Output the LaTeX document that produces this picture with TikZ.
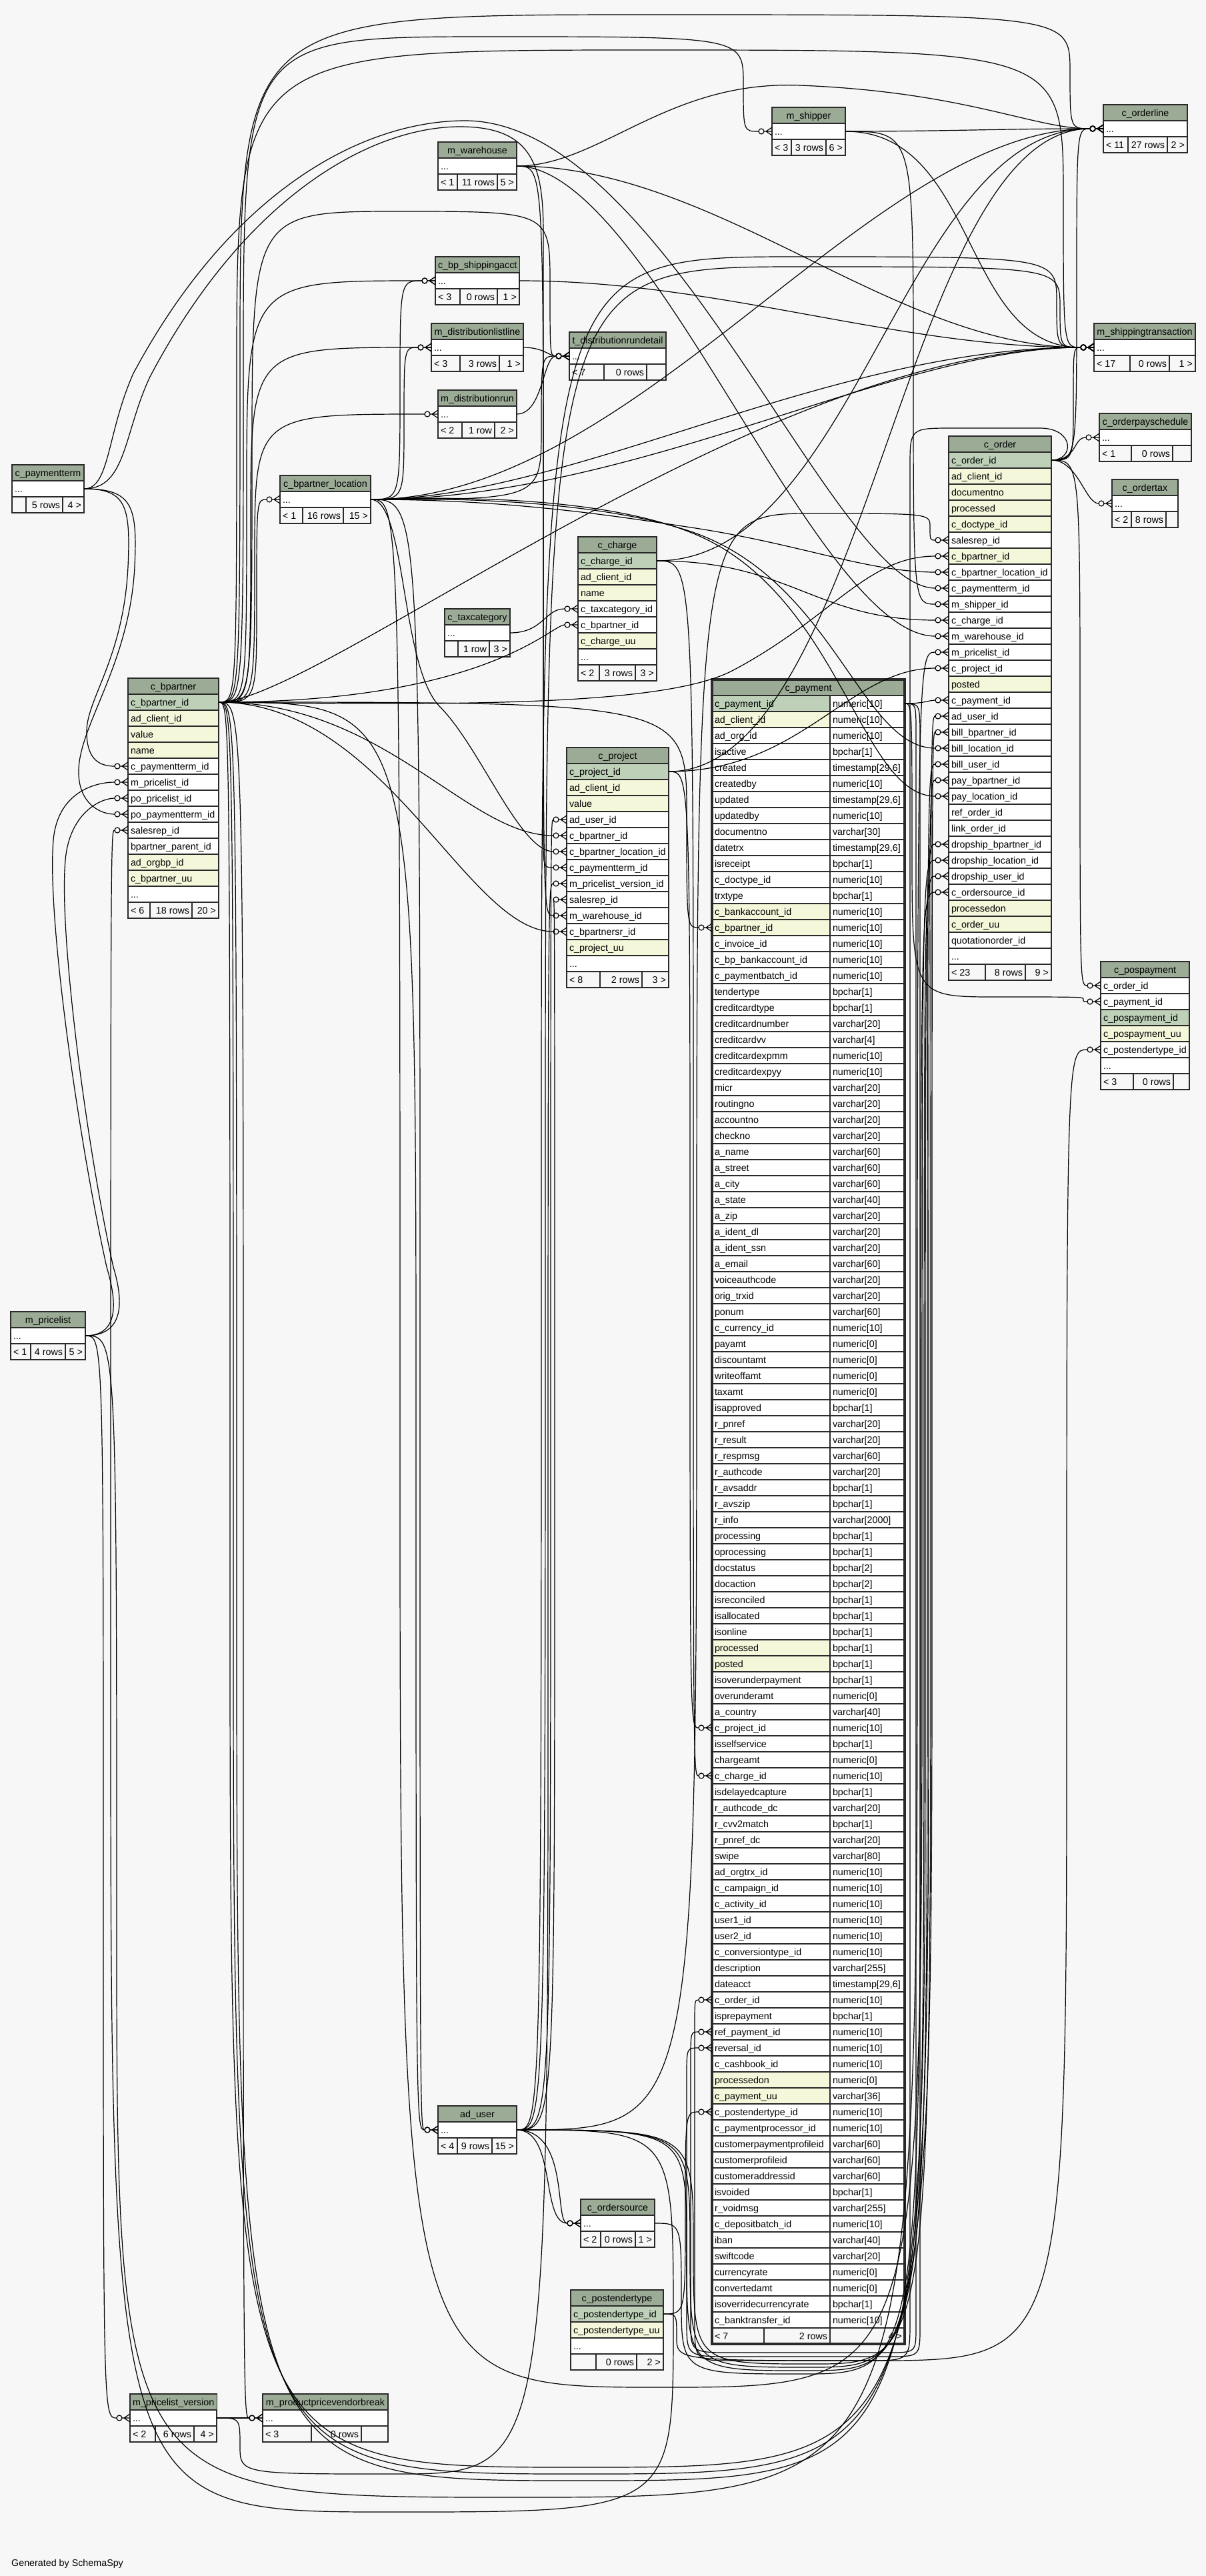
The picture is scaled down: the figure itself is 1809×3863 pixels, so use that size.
\documentclass[tikz,border=0pt]{standalone}
\usepackage{fontspec}
\setmainfont{Liberation Sans}
\usetikzlibrary{arrows.meta,calc}
\definecolor{bgc}{HTML}{F7F7F7}
\definecolor{ttlc}{HTML}{9BAB96}
\definecolor{cg}{HTML}{BED1B8}
\definecolor{cy}{HTML}{F4F7DA}
\definecolor{cw}{HTML}{FFFFFF}
\definecolor{ftc}{HTML}{F7F7F7}
\definecolor{brd}{HTML}{2A2A2A}

\pgfdeclarearrow{
  name = crowodot,
  setup code = {
    \pgfarrowssettipend{0pt}
    \pgfarrowssetlineend{-20pt}
    \pgfarrowssetbackend{-20pt}
    \pgfarrowshullpoint{0pt}{6pt}
    \pgfarrowshullpoint{0pt}{-6pt}
    \pgfarrowshullpoint{-20pt}{4pt}
    \pgfarrowshullpoint{-20pt}{-4pt}
  },
  drawing code = {
    \pgfsetdash{}{0pt}
    \pgfpathmoveto{\pgfqpoint{0pt}{6pt}}
    \pgfpathlineto{\pgfqpoint{-9pt}{0pt}}
    \pgfpathlineto{\pgfqpoint{0pt}{-6pt}}
    \pgfpathmoveto{\pgfqpoint{-12pt}{0pt}}
    \pgfpathlineto{\pgfqpoint{0pt}{0pt}}
    \pgfusepathqstroke
    \pgfpathcircle{\pgfqpoint{-16pt}{0pt}}{4pt}
    \pgfusepathqstroke
  }
}

\newcommand\tf{\fontsize{14.3pt}{17pt}\selectfont}
\newcommand\ddd{...}

\tikzset{
  ttl/.style={draw=brd, fill=ttlc, line width=1.5pt, minimum height=24pt, inner xsep=4pt, inner ysep=0pt, outer sep=0pt, text height=12pt, text depth=2pt, font=\tf},
  cell/.style={draw=brd, line width=1.5pt, minimum height=24pt, inner xsep=4pt, inner ysep=0pt, outer sep=0pt, text height=12pt, text depth=2pt, font=\tf},
  fcell/.style={cell, fill=ftc},
  rel/.style={draw=black, line width=1.2pt, -{crowodot}},
}

\newcommand{\tbl}[6]{%
  \pgfmathsetmacro{\tw}{#3-#2}%
  \pgfmathsetmacro{\iw}{#3-#2-8}%
  \node[ttl, minimum width=\tw pt, anchor=north west] (#1) at (#2,#4) {#5};
  \foreach \fc/\nm [count=\i] in {#6} {
    \node[cell, fill=c\fc, minimum width=\tw pt, anchor=north west] (#1-r\i) at (#2,{#4+24*\i}) {\makebox[\iw pt][l]{\nm}};
  }%
}
\newcommand{\foot}[9]{%
  \node[fcell, minimum width={(#3-#2)*1pt}, anchor=north west] (#1-f1) at (#2,#6) {\makebox[\dimexpr#3pt-#2pt-8pt\relax][l]{#7}};
  \node[fcell, minimum width={(#4-#3)*1pt}, anchor=north west] (#1-f2) at (#3,#6) {\makebox[\dimexpr#4pt-#3pt-8pt\relax][r]{#8}};
  \node[fcell, minimum width={(#5-#4)*1pt}, anchor=north west] (#1-f3) at (#4,#6) {\makebox[\dimexpr#5pt-#4pt-8pt\relax][r]{#9}};
}
\newcommand{\eS}[4]{\draw[rel] (#1.east) .. controls +(#3,0) and +(-#4,0) .. (#2.west);}
\newcommand{\eV}[3]{\draw[rel] let \p1=(#1.east), \p2=(#2.west) in (\p1) .. controls (#3pt,\y1) .. (#3pt,{0.5*(\y1+\y2)}) .. controls (#3pt,\y2) .. (\p2);}
\newcommand{\eR}[5]{\draw[rel] let \p1=(#1.east), \p2=(#2.west) in (\p1) .. controls (#3pt,\y1) .. (#3pt,{0.5*(\y1-#4pt)}) .. controls (#3pt,-#4pt) .. ({0.5*(#3pt+#5pt)},-#4pt) .. controls (#5pt,-#4pt) .. (#5pt,{0.5*(\y2-#4pt)}) .. controls (#5pt,\y2) .. (\p2);}

\begin{document}
\catcode`\_=12
\begin{tikzpicture}[x=1pt,y=-1pt]
\path[use as bounding box, fill=bgc] (0,0) rectangle (1809,3863);

% ---------- tables ----------
\tbl{ol}{1655}{1781}{157}{c_orderline}{w/\ddd}
\foot{ol}{1655}{1692}{1751}{1781}{205}{< 11}{27 rows}{2 >}

\tbl{msh}{1158}{1268}{161}{m_shipper}{w/\ddd}
\foot{msh}{1158}{1187}{1239}{1268}{209}{< 3}{3 rows}{6 >}

\tbl{mst}{1641}{1793}{485}{m_shippingtransaction}{w/\ddd}
\foot{mst}{1641}{1695}{1754}{1793}{533}{< 17}{0 rows}{1 >}

\tbl{ops}{1649}{1787}{620}{c_orderpayschedule}{w/\ddd}
\foot{ops}{1649}{1697}{1759}{1787}{668}{< 1}{0 rows}{}

\tbl{otx}{1668}{1767}{719}{c_ordertax}{w/\ddd}
\foot{otx}{1668}{1697}{1749}{1767}{767}{< 2}{8 rows}{}

\tbl{ord}{1423}{1577}{654}{c_order}{g/c_order_id, y/ad_client_id, y/documentno, y/processed, y/c_doctype_id, w/salesrep_id, y/c_bpartner_id, w/c_bpartner_location_id, w/c_paymentterm_id, w/m_shipper_id, w/c_charge_id, w/m_warehouse_id, w/m_pricelist_id, w/c_project_id, y/posted, w/c_payment_id, w/ad_user_id, w/bill_bpartner_id, w/bill_location_id, w/bill_user_id, w/pay_bpartner_id, w/pay_location_id, w/ref_order_id, w/link_order_id, w/dropship_bpartner_id, w/dropship_location_id, w/dropship_user_id, w/c_ordersource_id, y/processedon, y/c_order_uu, w/quotationorder_id, w/\ddd}
\foot{ord}{1423}{1478}{1538}{1577}{1446}{< 23}{8 rows}{9 >}

\tbl{pos}{1651}{1784}{1442}{c_pospayment}{w/c_order_id, w/c_payment_id, g/c_pospayment_id, y/c_pospayment_uu, w/c_postendertype_id, w/\ddd}
\foot{pos}{1651}{1700}{1760}{1784}{1610}{< 3}{0 rows}{}

\tbl{mwh}{657}{775}{213}{m_warehouse}{w/\ddd}
\foot{mwh}{657}{686}{746}{775}{261}{< 1}{11 rows}{5 >}

\tbl{bsa}{653}{779}{385}{c_bp_shippingacct}{w/\ddd}
\foot{bsa}{653}{690}{746}{779}{433}{< 3}{0 rows}{1 >}

\tbl{dll}{647}{785}{485}{m_distributionlistline}{w/\ddd}
\foot{dll}{647}{690}{749}{785}{533}{< 3}{3 rows}{1 >}

\tbl{drn}{657}{775}{585}{m_distributionrun}{w/\ddd}
\foot{drn}{657}{693}{742}{775}{633}{< 2}{1 row}{2 >}

\tbl{trd}{854}{999}{498}{t_distributionrundetail}{w/\ddd}
\foot{trd}{854}{906}{970}{999}{546}{< 7}{0 rows}{}

\tbl{pt}{18}{126}{697}{c_paymentterm}{w/\ddd}
\foot{pt}{18}{39}{94}{126}{745}{}{5 rows}{4 >}

\tbl{bpl}{420}{556}{713}{c_bpartner_location}{w/\ddd}
\foot{bpl}{420}{454}{515}{556}{761}{< 1}{16 rows}{15 >}

\tbl{bp}{192}{328}{1017}{c_bpartner}{g/c_bpartner_id, y/ad_client_id, y/value, y/name, w/c_paymentterm_id, w/m_pricelist_id, w/po_pricelist_id, w/po_paymentterm_id, w/salesrep_id, w/bpartner_parent_id, y/ad_orgbp_id, y/c_bpartner_uu, w/\ddd}
\foot{bp}{192}{225}{288}{328}{1353}{< 6}{18 rows}{20 >}

\tbl{chg}{867}{985}{805}{c_charge}{g/c_charge_id, y/ad_client_id, y/name, w/c_taxcategory_id, w/c_bpartner_id, y/c_charge_uu, w/\ddd}
\foot{chg}{867}{899}{953}{985}{997}{< 2}{3 rows}{3 >}

\tbl{tax}{667}{765}{913}{c_taxcategory}{w/\ddd}
\foot{tax}{667}{687}{734}{765}{961}{}{1 row}{3 >}

\tbl{prj}{850}{1003}{1121}{c_project}{g/c_project_id, y/ad_client_id, y/value, w/ad_user_id, w/c_bpartner_id, w/c_bpartner_location_id, w/c_paymentterm_id, w/m_pricelist_version_id, w/salesrep_id, w/m_warehouse_id, w/c_bpartnersr_id, y/c_project_uu, w/\ddd}
\foot{prj}{850}{900}{963}{1003}{1457}{< 8}{2 rows}{3 >}

\tbl{mpl}{16}{128}{1967}{m_pricelist}{w/\ddd}
\foot{mpl}{16}{46}{98}{128}{2015}{< 1}{4 rows}{5 >}

\tbl{usr}{657}{775}{3158}{ad_user}{w/\ddd}
\foot{usr}{657}{686}{738}{775}{3206}{< 4}{9 rows}{15 >}

\tbl{osr}{871}{982}{3298}{c_ordersource}{w/\ddd}
\foot{osr}{871}{901}{953}{982}{3346}{< 2}{0 rows}{1 >}

\tbl{ptt}{856}{995}{3434}{c_postendertype}{g/c_postendertype_id, y/c_postendertype_uu, w/\ddd}
\foot{ptt}{856}{894}{955}{995}{3530}{}{0 rows}{2 >}

\tbl{plv}{195}{325}{3590}{m_pricelist_version}{w/\ddd}
\foot{plv}{195}{233}{291}{325}{3638}{< 2}{6 rows}{4 >}

\tbl{ppv}{394}{582}{3590}{m_productpricevendorbreak}{w/\ddd}
\foot{ppv}{394}{467}{542}{582}{3638}{< 3}{0 rows}{}

% c_payment (focus table)
\node[ttl, minimum width=289pt, anchor=north west] (pay) at (1068,1019) {c_payment};
\foreach \fc/\nm/\ty [count=\i] in {g/c_payment_id/numeric[10], y/ad_client_id/numeric[10], w/ad_org_id/numeric[10], w/isactive/bpchar[1], w/created/{timestamp[29,6]}, w/createdby/numeric[10], w/updated/{timestamp[29,6]}, w/updatedby/numeric[10], w/documentno/varchar[30], w/datetrx/{timestamp[29,6]}, w/isreceipt/bpchar[1], w/c_doctype_id/numeric[10], w/trxtype/bpchar[1], y/c_bankaccount_id/numeric[10], y/c_bpartner_id/numeric[10], w/c_invoice_id/numeric[10], w/c_bp_bankaccount_id/numeric[10], w/c_paymentbatch_id/numeric[10], w/tendertype/bpchar[1], w/creditcardtype/bpchar[1], w/creditcardnumber/varchar[20], w/creditcardvv/varchar[4], w/creditcardexpmm/numeric[10], w/creditcardexpyy/numeric[10], w/micr/varchar[20], w/routingno/varchar[20], w/accountno/varchar[20], w/checkno/varchar[20], w/a_name/varchar[60], w/a_street/varchar[60], w/a_city/varchar[60], w/a_state/varchar[40], w/a_zip/varchar[20], w/a_ident_dl/varchar[20], w/a_ident_ssn/varchar[20], w/a_email/varchar[60], w/voiceauthcode/varchar[20], w/orig_trxid/varchar[20], w/ponum/varchar[60], w/c_currency_id/numeric[10], w/payamt/numeric[0], w/discountamt/numeric[0], w/writeoffamt/numeric[0], w/taxamt/numeric[0], w/isapproved/bpchar[1], w/r_pnref/varchar[20], w/r_result/varchar[20], w/r_respmsg/varchar[60], w/r_authcode/varchar[20], w/r_avsaddr/bpchar[1], w/r_avszip/bpchar[1], w/r_info/varchar[2000], w/processing/bpchar[1], w/oprocessing/bpchar[1], w/docstatus/bpchar[2], w/docaction/bpchar[2], w/isreconciled/bpchar[1], w/isallocated/bpchar[1], w/isonline/bpchar[1], y/processed/bpchar[1], y/posted/bpchar[1], w/isoverunderpayment/bpchar[1], w/overunderamt/numeric[0], w/a_country/varchar[40], w/c_project_id/numeric[10], w/isselfservice/bpchar[1], w/chargeamt/numeric[0], w/c_charge_id/numeric[10], w/isdelayedcapture/bpchar[1], w/r_authcode_dc/varchar[20], w/r_cvv2match/bpchar[1], w/r_pnref_dc/varchar[20], w/swipe/varchar[80], w/ad_orgtrx_id/numeric[10], w/c_campaign_id/numeric[10], w/c_activity_id/numeric[10], w/user1_id/numeric[10], w/user2_id/numeric[10], w/c_conversiontype_id/numeric[10], w/description/varchar[255], w/dateacct/{timestamp[29,6]}, w/c_order_id/numeric[10], w/isprepayment/bpchar[1], w/ref_payment_id/numeric[10], w/reversal_id/numeric[10], w/c_cashbook_id/numeric[10], y/processedon/numeric[0], y/c_payment_uu/varchar[36], w/c_postendertype_id/numeric[10], w/c_paymentprocessor_id/numeric[10], w/customerpaymentprofileid/varchar[60], w/customerprofileid/varchar[60], w/customeraddressid/varchar[60], w/isvoided/bpchar[1], w/r_voidmsg/varchar[255], w/c_depositbatch_id/numeric[10], w/iban/varchar[40], w/swiftcode/varchar[20], w/currencyrate/numeric[0], w/convertedamt/numeric[0], w/isoverridecurrencyrate/bpchar[1], w/c_banktransfer_id/numeric[10]} {
  \node[cell, fill=c\fc, minimum width=177pt, anchor=north west] (pay-r\i) at (1068,{1019+24*\i}) {\makebox[169pt][l]{\nm}};
  \node[cell, fill=cw, minimum width=112pt, anchor=north west] (pay-t\i) at (1245,{1019+24*\i}) {\makebox[104pt][l]{\ty}};
}
\foot{pay}{1068}{1146}{1245}{1357}{3491}{< 7}{2 rows}{4 >}
\node[draw=brd, line width=3.5pt, minimum width=289pt, minimum height=2496pt, inner sep=0pt, outer sep=0pt, anchor=north west] (payframe) at (1068,1019) {};

% ---------- connectors ----------
% c_paymentterm
\draw[rel] (pt-r1.east) .. controls (190,733) and (196,760) .. (192,850) .. controls (185,990) and (128,1050) .. (130,1100) .. controls (131,1140) and (150,1149) .. (bp-r5.west);
\draw[rel] (pt-r1.east) .. controls (200,733) and (206,760) .. (202,850) .. controls (194,1000) and (116,1090) .. (118,1160) .. controls (119,1205) and (150,1221) .. (bp-r8.west);
\draw[rel] (pt-r1.east) .. controls (165,733) and (160,650) .. (200,560) .. controls (350,280) and (550,180) .. (700,181) .. controls (1000,185) and (1250,882) .. (ord-r9.west);
\draw[rel] (pt-r1.east) .. controls (190,733) and (185,650) .. (225,565) .. controls (370,290) and (560,190) .. (690,190) .. controls (800,190) and (815,250) .. (815,350) -- (815,1250) .. controls (815,1301) .. (prj-r7.west);

% c_bpartner
\eV{bp-r1}{bpl-r1}{385}
\eV{bp-r1}{bsa-r1}{370}
\eV{bp-r1}{dll-r1}{376}
\eV{bp-r1}{drn-r1}{382}
\eR{bp-r1}{trd-r1}{378}{317}{825}
\eR{bp-r1}{msh-r1}{365}{55}{1115}
\eR{bp-r1}{ol-r1}{360}{22}{1605}
\eR{bp-r1}{mst-r1}{355}{75}{1595}
\eS{bp-r1}{mst-r1}{150}{500}
\eS{bp-r1}{chg-r5}{400}{40}
\eS{bp-r1}{prj-r5}{250}{150}
\eS{bp-r1}{prj-r11}{250}{150}
\draw[rel] (bp-r1.east) .. controls (700,1058) and (1000,1058) .. (1100,1005) .. controls (1250,925) and (1300,834) .. (ord-r7.west);
\eR{bp-r1}{ord-r18}{345}{3700}{1398}
\eR{bp-r1}{ord-r21}{350}{3710}{1393}
\eR{bp-r1}{ord-r25}{355}{3720}{1388}
\eV{bp-r1}{pay-r15}{1030}
\eV{bp-r1}{usr-r1}{624}
\eV{bp-r1}{ppv-r1}{365}

% c_bpartner_location
\eV{bpl-r1}{bsa-r1}{600}
\eV{bpl-r1}{dll-r1}{606}
\eV{bpl-r1}{trd-r1}{812}
\eS{bpl-r1}{ol-r1}{400}{350}
\eS{bpl-r1}{mst-r1}{400}{300}
\eS{bpl-r1}{mst-r1}{300}{400}
\draw[rel] (bpl-r1.east) .. controls (750,749) and (900,770) .. (1030,790) .. controls (1200,815) and (1300,858) .. (ord-r8.west);
\draw[rel] (bpl-r1.east) .. controls (750,745) and (920,760) .. (1030,795) .. controls (1250,865) and (1290,1122) .. (ord-r19.west);
\draw[rel] (bpl-r1.east) .. controls (750,742) and (930,755) .. (1040,800) .. controls (1260,890) and (1290,1194) .. (ord-r22.west);
\eR{bpl-r1}{ord-r26}{600}{3580}{1383}
\draw[rel] (bpl-r1.east) .. controls (610,749) and (600,1000) .. (660,1060) .. controls (720,1120) and (780,1277) .. (prj-r6.west);
\eV{bpl-r1}{usr-r1}{630}

% ad_user
\eR{usr-r1}{bp-r9}{1010}{3767}{166}
\eR{usr-r1}{ord-r6}{1045}{770}{1395}
\eR{usr-r1}{ord-r17}{1040}{3545}{1396}
\eR{usr-r1}{ord-r20}{1035}{3550}{1391}
\eR{usr-r1}{ord-r27}{1030}{3555}{1386}
\eV{usr-r1}{prj-r4}{826}
\eV{usr-r1}{prj-r9}{832}
\eR{usr-r1}{mst-r1}{818}{400}{1590}
\eR{usr-r1}{mst-r1}{812}{385}{1585}
\eS{usr-r1}{osr-r1}{60}{60}
\eS{usr-r1}{osr-r1}{80}{40}

% m_warehouse
\draw[rel] (mwh-r1.east) .. controls (900,249) and (1000,120) .. (1200,128) .. controls (1450,138) and (1550,193) .. (ol-r1.west);
\eS{mwh-r1}{mst-r1}{300}{300}
\eS{mwh-r1}{ord-r12}{200}{200}
\eV{mwh-r1}{prj-r10}{815}

% m_shipper, c_bp_shippingacct
\eS{msh-r1}{ol-r1}{150}{150}
\eS{msh-r1}{mst-r1}{200}{200}
\eV{msh-r1}{ord-r10}{1370}
\eS{bsa-r1}{mst-r1}{300}{300}

% c_charge, c_taxcategory
\eS{chg-r1}{ord-r11}{200}{200}
\eS{chg-r1}{ol-r1}{300}{300}
\eV{chg-r1}{pay-r68}{1040}
\eS{tax-r1}{chg-r4}{50}{50}

% c_project
\eS{prj-r1}{ord-r14}{200}{150}
\eV{prj-r1}{pay-r65}{1035}
\eS{prj-r1}{ol-r1}{300}{300}

% c_order
\eS{ord-r1}{ops-r1}{40}{40}
\eS{ord-r1}{otx-r1}{40}{40}
\eV{ord-r1}{pos-r1}{1620}
\eV{ord-r1}{ol-r1}{1615}
\eV{ord-r1}{mst-r1}{1610}
\draw[rel] (ord-r1.east) .. controls (1612,690) and (1612,642) .. (1560,642) -- (1430,642) .. controls (1365,642) .. (1365,700) -- (1365,3480) .. controls (1365,3540) .. (1300,3540) -- (1100,3540) .. controls (1042,3540) .. (1042,3480) -- (1042,3040) .. controls (1042,2999) .. (pay-r82.west);

% c_payment
\eS{pay-t1}{ord-r16}{30}{30}
\eR{pay-t1}{pos-r2}{1368}{1495}{1625}
\draw[rel] (pay-t1.east) .. controls (1374,1055) .. (1374,1100) -- (1374,3490) .. controls (1374,3528) .. (1330,3528) -- (1100,3528) .. controls (1036,3528) .. (1036,3480) -- (1036,3090) .. controls (1036,3047) .. (pay-r84.west);
\draw[rel] (pay-t1.east) .. controls (1380,1055) .. (1380,1110) -- (1380,3490) .. controls (1380,3534) .. (1330,3534) -- (1100,3534) .. controls (1030,3534) .. (1030,3480) -- (1030,3115) .. controls (1030,3071) .. (pay-r85.west);

% c_postendertype, c_ordersource
\eV{ptt-r1}{pay-r89}{1028}
\eR{ptt-r1}{pos-r5}{1015}{3540}{1600}
\eR{osr-r1}{ord-r28}{1022}{3560}{1381}

% m_pricelist, m_pricelist_version
\draw[rel] (mpl-r1.east) .. controls (175,2003) and (178,1960) .. (160,1900) .. controls (120,1720) and (70,1380) .. (80,1260) .. controls (86,1190) and (140,1173) .. (bp-r6.west);
\draw[rel] (mpl-r1.east) .. controls (182,2003) and (188,1960) .. (170,1900) .. controls (130,1720) and (88,1400) .. (98,1290) .. controls (104,1220) and (150,1197) .. (bp-r7.west);
\eR{mpl-r1}{ord-r13}{175}{3745}{1376}
\eV{mpl-r1}{plv-r1}{155}
\eS{plv-r1}{ppv-r1}{30}{30}
\eR{plv-r1}{prj-r8}{360}{3710}{822}

% distribution
\eS{dll-r1}{trd-r1}{30}{30}
\eS{drn-r1}{trd-r1}{40}{40}

\node[anchor=base west, font=\tf, inner sep=0pt] (gen) at (17,3848) {Generated by SchemaSpy};
\end{tikzpicture}
\end{document}
